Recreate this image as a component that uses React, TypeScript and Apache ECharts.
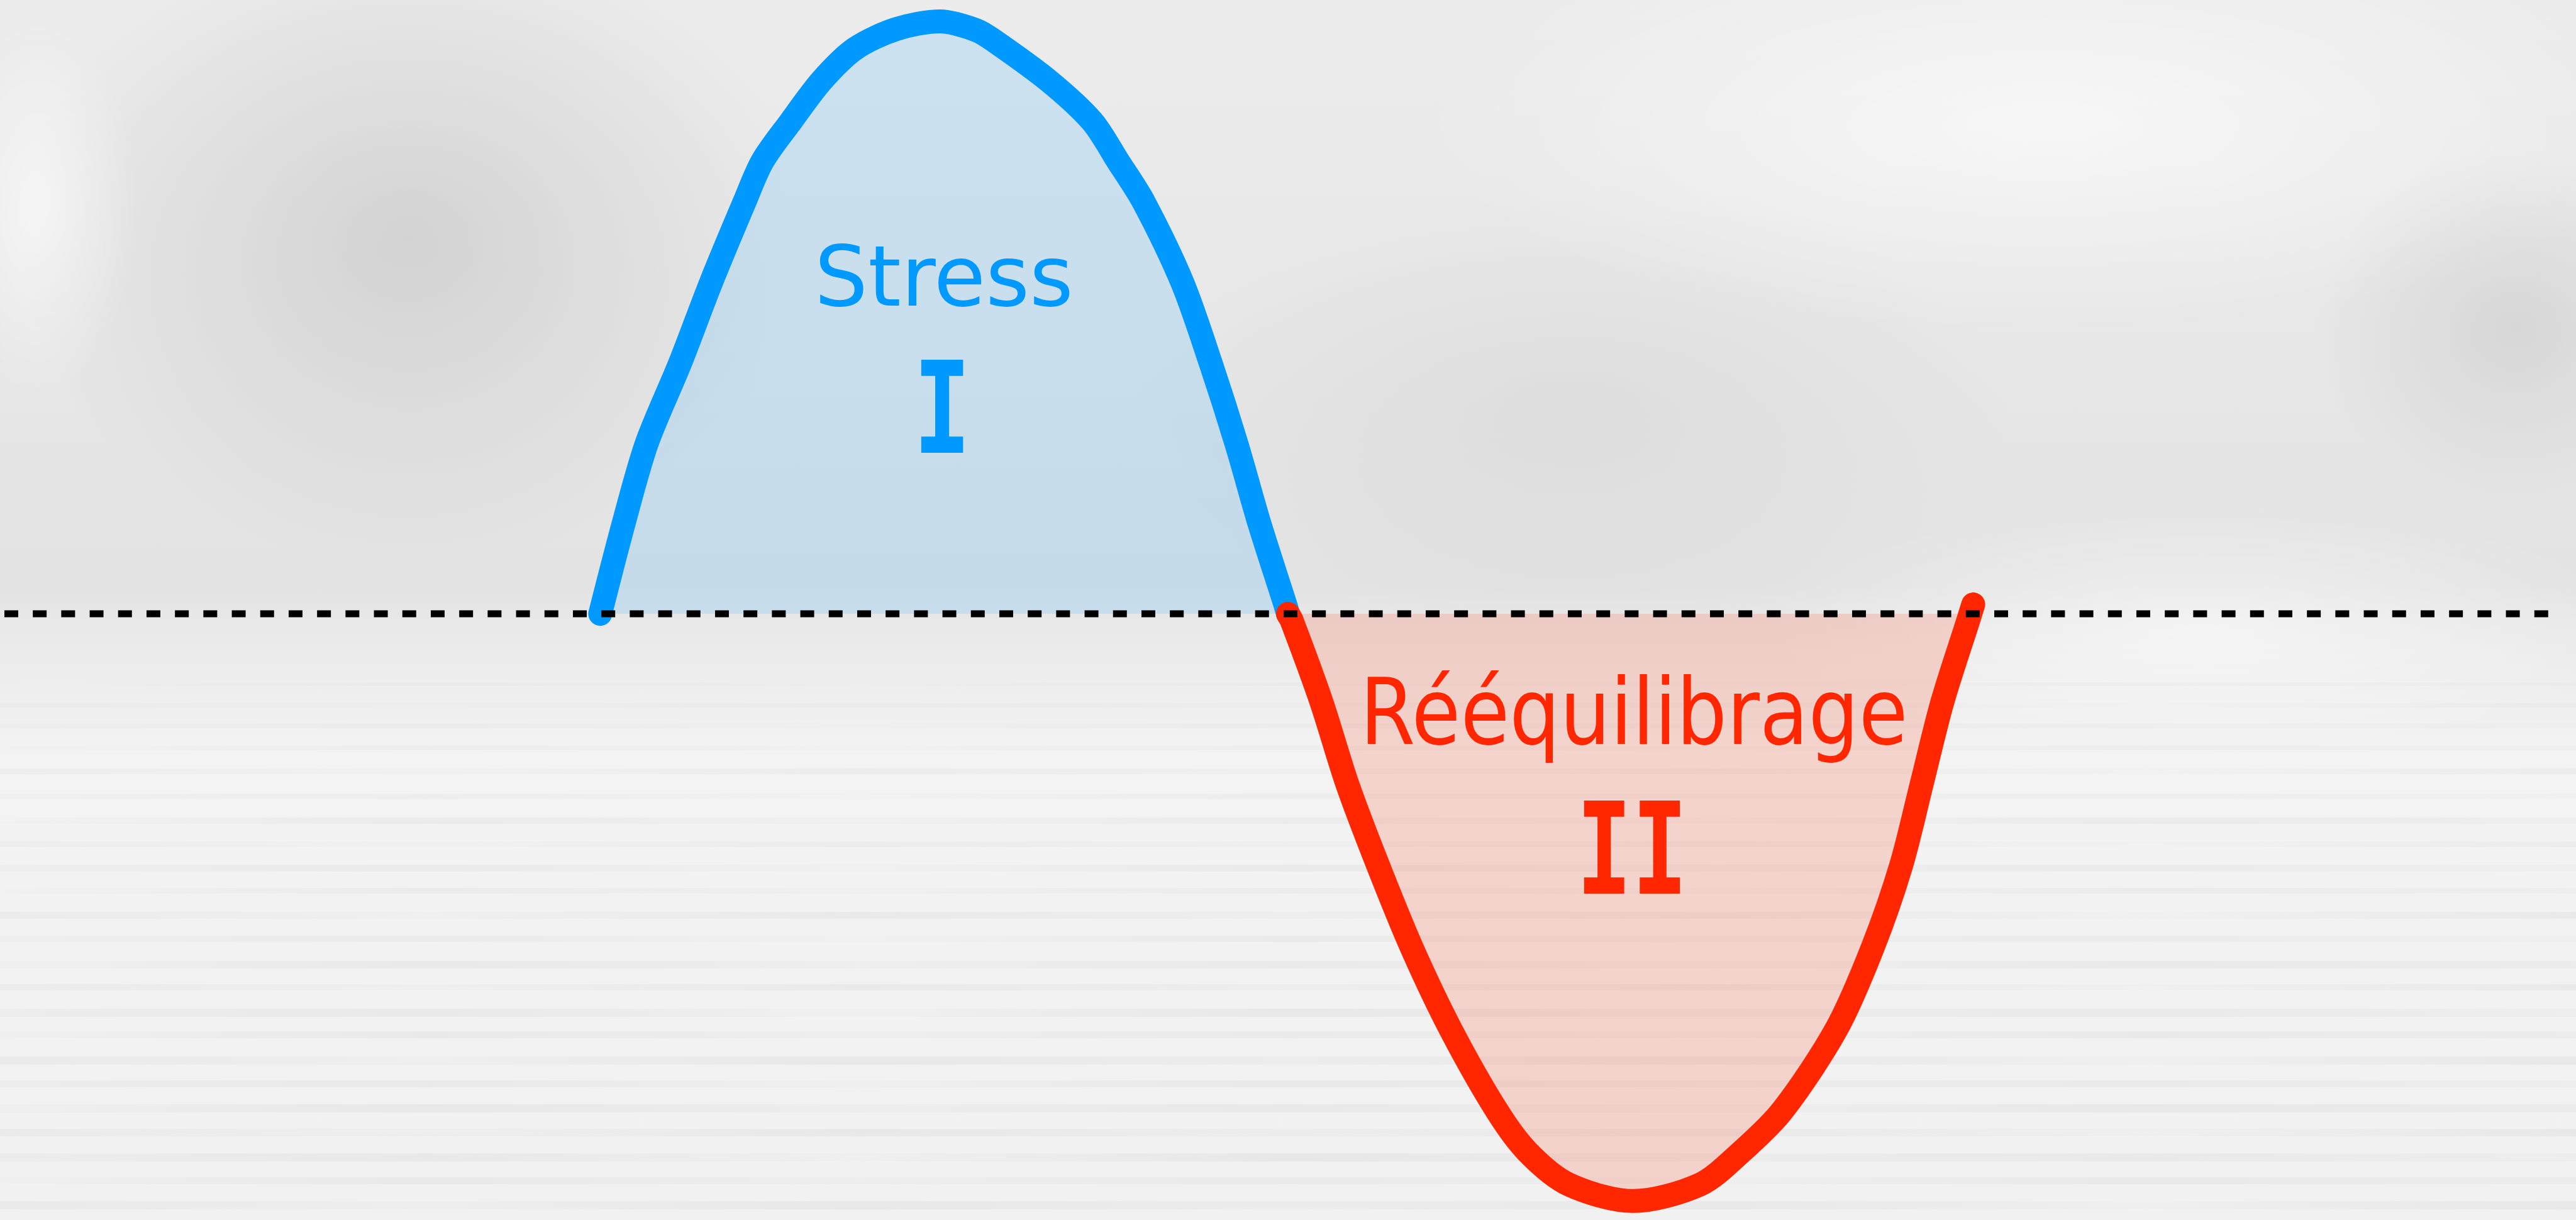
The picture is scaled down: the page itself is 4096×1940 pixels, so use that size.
import React, { useEffect, useRef } from "react";
import * as echarts from "echarts";

// Phase I (stress): x in % of chart width, y in % of peak amplitude
const stressX = [23.3, 24.2, 25.1, 26.4, 27.6, 28.9, 29.6, 30.7, 31.9, 33.2, 34.8, 36.5, 37.9, 38.6, 40.7, 42.4, 43.4, 44.4, 45.9, 47.0, 48.0, 48.9, 49.9, 50.0];
const stressY = [0, 15.1, 28.7, 42.3, 55.9, 69.5, 76.4, 83.1, 90.0, 95.4, 98.7, 100, 98.5, 96.7, 90.0, 83.1, 76.4, 69.5, 55.9, 42.3, 28.7, 15.1, 1.5, 0];

// Phase II (rééquilibrage)
const rebalX = [50.0, 50.15, 51.3, 52.3, 53.5, 54.8, 56.3, 58.1, 59.3, 60.9, 63.4, 66.0, 67.6, 69.2, 71.3, 72.7, 73.8, 74.6, 75.4, 76.4, 76.6];
const rebalY = [0, -1.2, -14.9, -28.7, -42.5, -56.3, -70.0, -83.8, -90.8, -96.3, -99.1, -96.3, -90.8, -83.8, -70.0, -56.3, -42.5, -28.7, -14.9, -1.2, 1.6];

// Equilibrium (dotted) line
const baseX = [0.17, 99.1];
const baseY = [0, 0];

const labelStress = "Stress";
const labelStressNum = "I";
const labelRebal = "Rééquilibrage";
const labelRebalNum = "II";

// decorative water ripples of the backdrop (y in px, thickness, opacity)
const rippleY = [1085, 1118, 1150, 1186, 1222, 1262, 1300, 1338, 1375, 1412, 1450, 1488, 1528, 1565, 1604, 1640, 1680, 1718, 1756, 1795, 1834, 1872, 1910];
const rippleH = [6, 7, 8, 7, 9, 8, 10, 9, 11, 9, 11, 10, 12, 10, 13, 11, 13, 11, 13, 12, 13, 11, 13];
const rippleA = [0.06, 0.07, 0.08, 0.08, 0.1, 0.09, 0.11, 0.1, 0.13, 0.11, 0.13, 0.12, 0.14, 0.13, 0.15, 0.13, 0.15, 0.14, 0.15, 0.14, 0.15, 0.13, 0.14];
const ripplePatterns = [
  [0.2, 1, 0.4, 0.9, 0.3, 1, 0.6],
  [0.8, 0.3, 1, 0.5, 0.9, 0.2, 1],
  [0.5, 0.9, 0.2, 1, 0.6, 0.8, 0.4],
];

const zip = (xs: number[], ys: number[]) => xs.map((x, i) => [x, ys[i]]);

export default function App() {
  const ref = useRef<HTMLDivElement>(null);
  useEffect(() => {
    document.body.style.margin = "0";
    const chart = echarts.init(ref.current!, null, { renderer: "svg" });

    const radial = (c: string, a: number) =>
      new echarts.graphic.RadialGradient(0.5, 0.5, 0.5, [
        { offset: 0, color: `rgba(${c},${a})` },
        { offset: 1, color: `rgba(${c},0)` },
      ]);

    const ripples = rippleY.map((y, i) => {
      const pat = ripplePatterns[i % ripplePatterns.length];
      return {
        type: "rect",
        shape: { x: 0, y, width: 4096, height: rippleH[i] },
        style: {
          fill: new echarts.graphic.LinearGradient(
            0,
            0,
            1,
            0,
            pat.map((p, k) => ({
              offset: k / (pat.length - 1),
              color: `rgba(175,175,175,${(rippleA[i] * p).toFixed(3)})`,
            }))
          ),
        },
      };
    });

    const textEl = (
      text: string,
      x: number,
      y: number,
      font: string,
      color: string,
      scaleX: number
    ) => ({
      type: "text",
      x,
      y,
      z: 20,
      scaleX,
      style: {
        text,
        font,
        fill: color,
        textAlign: "center",
        textVerticalAlign: "middle",
        align: "center",
        verticalAlign: "middle",
      },
    });

    chart.setOption({
      animation: false,
      backgroundColor: new echarts.graphic.LinearGradient(0, 0, 0, 1, [
        { offset: 0, color: "#ececec" },
        { offset: 0.3, color: "#e7e7e7" },
        { offset: 0.48, color: "#e3e3e3" },
        { offset: 0.53, color: "#ebebeb" },
        { offset: 0.62, color: "#f3f3f3" },
        { offset: 1, color: "#f1f1f1" },
      ]),
      grid: { left: 0, right: 0, top: 0, bottom: 0, containLabel: false },
      xAxis: { type: "value", min: 0, max: 100, show: false },
      yAxis: { type: "value", min: -102.3, max: 103.6, show: false },
      graphic: [
        {
          type: "group",
          silent: true,
          z: -10,
          children: [
            { type: "ellipse", shape: { cx: 650, cy: 380, rx: 620, ry: 520 }, style: { fill: radial("165,165,165", 0.32) } },
            { type: "ellipse", shape: { cx: 60, cy: 330, rx: 160, ry: 300 }, style: { fill: radial("255,255,255", 0.55) } },
            { type: "ellipse", shape: { cx: 2500, cy: 650, rx: 700, ry: 350 }, style: { fill: radial("180,180,180", 0.18) } },
            { type: "ellipse", shape: { cx: 3250, cy: 200, rx: 1000, ry: 330 }, style: { fill: radial("255,255,255", 0.6) } },
            { type: "ellipse", shape: { cx: 4000, cy: 520, rx: 320, ry: 280 }, style: { fill: radial("175,175,175", 0.3) } },
            { type: "ellipse", shape: { cx: 3500, cy: 1000, rx: 700, ry: 200 }, style: { fill: radial("255,255,255", 0.5) } },
            ...ripples,
          ],
        },
        textEl(labelStress, 1501, 440, "134px 'DejaVu Sans'", "#0099ff", 1),
        textEl(labelStressNum, 1498, 650, "bold 204px 'DejaVu Sans Mono'", "#0099ff", 0.75),
        textEl(labelRebal, 2598, 1132, "147px 'DejaVu Sans'", "#ff2600", 0.86),
        textEl(labelRebalNum, 2595, 1350, "bold 204px 'DejaVu Sans Mono'", "#ff2600", 0.72),
      ],
      series: [
        {
          type: "line",
          data: zip(stressX, stressY),
          smooth: 0.3,
          smoothMonotone: "none",
          symbol: "none",
          z: 3,
          lineStyle: { color: "#0099ff", width: 38, cap: "round", join: "round" },
          areaStyle: { color: "rgba(130,202,252,0.42)", origin: 0 },
        },
        {
          type: "line",
          data: zip(rebalX, rebalY),
          smooth: 0.3,
          smoothMonotone: "none",
          symbol: "none",
          z: 3,
          lineStyle: { color: "#ff2600", width: 38, cap: "round", join: "round" },
          areaStyle: { color: "rgba(247,135,117,0.42)", origin: 0 },
        },
        {
          type: "line",
          data: zip(baseX, baseY),
          symbol: "none",
          z: 5,
          lineStyle: { color: "#000000", width: 11, type: [22, 23.2], cap: "butt" },
        },
      ],
    });
    return () => chart.dispose();
  }, []);
  return <div ref={ref} style={{ width: 4096, height: 1940 }} />;
}
